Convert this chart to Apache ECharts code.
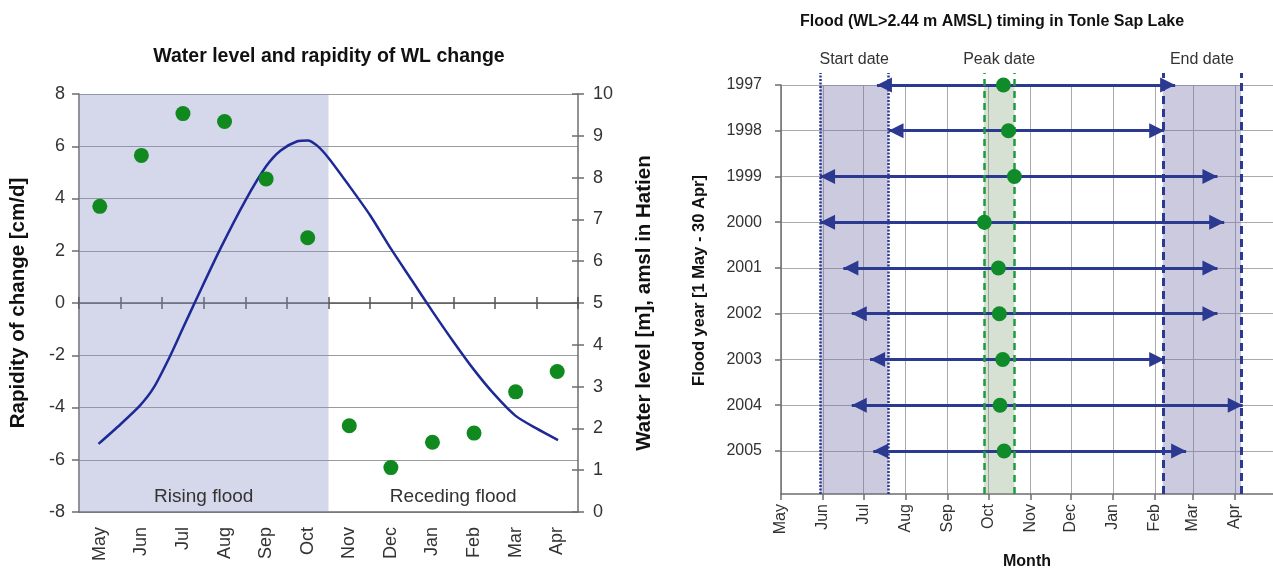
<!DOCTYPE html>
<html><head><meta charset="utf-8">
<script src="https://cdn.jsdelivr.net/npm/echarts@6/dist/echarts.min.js"></script>
<style>html,body{margin:0;padding:0;background:#fff}#c{width:1273px;height:569px}</style>
</head><body><div id="c"></div>
<script>
// ---------- Left chart data ----------
const months = ['May','Jun','Jul','Aug','Sep','Oct','Nov','Dec','Jan','Feb','Mar','Apr'];
const rapidity = [3.7, 5.65, 7.25, 6.95, 4.75, 2.5, -4.7, -6.3, -5.33, -4.98, -3.4, -2.62];
// water level curve: position in month units (category i spans i..i+1), level in m
const wlMonthPos = [0.47, 1.0, 1.47, 1.8, 2.2, 2.5, 2.85, 3.4, 4.0, 4.5, 4.85, 5.25, 5.5, 5.72, 6.0, 6.5, 7.0, 7.5, 8.0, 8.5, 9.0, 9.5, 10.0, 10.5, 11.0, 11.52];
const wlLevel    = [1.63, 2.1, 2.55, 2.98, 3.75, 4.4, 5.15, 6.3, 7.45, 8.27, 8.65, 8.87, 8.89, 8.77, 8.47, 7.8, 7.1, 6.3, 5.55, 4.8, 4.08, 3.4, 2.8, 2.3, 2.0, 1.72];
const risingSpan = [0, 6];
const recedingSpan = [6, 12];

// ---------- Right chart data (days since 1 May) ----------
const years = [1997, 1998, 1999, 2000, 2001, 2002, 2003, 2004, 2005];
const startDay = [70.8, 79.3, 28.8, 28.8, 46, 52.2, 65.7, 52.2, 68.1];
const peakDay  = [164.1, 167.8, 172.2, 150, 160.4, 161.1, 163.6, 161.6, 164.6];
const endDay   = [290.8, 282.7, 322, 327, 322, 322, 282.7, 340.7, 298.9];
const monthStartDay = [0, 31, 61, 92, 123, 153, 184, 214, 245, 276, 304, 335];
const startWindow = [28.8, 79.2];
const peakWindow = [149.8, 172.2];
const endWindow = [281.7, 339.5];

const FONT = '"Liberation Sans", Arial, sans-serif';
const chart = echarts.init(document.getElementById('c'), null, {renderer: 'canvas'});
const txt = (size, extra) => Object.assign({fontFamily: FONT, fontSize: size, color: '#333'}, extra || {});
const axisCol = '#6e6e6e';
const ARROW = 15;

const option = {
  backgroundColor: '#fff',
  animation: false,
  title: [
    {text: 'Water level and rapidity of WL change', left: 324, top: 42, textAlign: 'center',
     textStyle: txt(19.5, {fontWeight: 'bold', color: '#111'})},
    {text: 'Flood (WL>2.44 m AMSL) timing in Tonle Sap Lake', left: 987, top: 9, textAlign: 'center',
     textStyle: txt(16, {fontWeight: 'bold', color: '#111'})}
  ],
  grid: [
    {left: 79, right: 695, top: 94, bottom: 57, outerBoundsMode: 'none'},
    {left: 781, right: 0, top: 85, bottom: 75, outerBoundsMode: 'none'},
    {left: 781, right: 0, top: 73, bottom: 75, outerBoundsMode: 'none'}
  ],
  xAxis: [
    {gridIndex: 0, type: 'category', data: months, position: 'bottom', boundaryGap: true,
     axisLine: {onZero: false, lineStyle: {color: axisCol, width: 1.5}},
     axisTick: {show: false},
     axisLabel: txt(18, {rotate: 90, margin: 15}),
     splitLine: {show: false}},
    {gridIndex: 0, type: 'category', data: months, position: 'bottom', boundaryGap: true,
     axisLine: {onZero: true, onZeroAxisIndex: 0, lineStyle: {color: '#555', width: 1.5}},
     axisTick: {show: true, length: 6, lineStyle: {color: '#555', width: 1.5}},
     axisLabel: {show: false}, splitLine: {show: false}},
    {gridIndex: 0, type: 'value', min: 0, max: 12, show: false},
    {gridIndex: 1, type: 'value', min: 0, max: 363, position: 'bottom',
     axisLine: {onZero: false, lineStyle: {color: axisCol, width: 1.5}},
     axisTick: {show: true, customValues: monthStartDay, length: 6, lineStyle: {color: axisCol, width: 1.5}},
     axisLabel: txt(16, {customValues: monthStartDay, rotate: 90, margin: 10,
       formatter: v => months[monthStartDay.indexOf(v)] || ''}),
     splitLine: {show: true, lineStyle: {color: '#aaaaaa', width: 1}},
     name: 'Month', nameLocation: 'middle', nameGap: 60,
     nameTextStyle: txt(16, {fontWeight: 'bold', color: '#111'})},
    {gridIndex: 2, type: 'value', min: 0, max: 363, show: false},
    {gridIndex: 0, type: 'category', data: months, position: 'bottom', boundaryGap: true,
     axisLine: {show: false, onZero: true, onZeroAxisIndex: 0},
     axisTick: {show: true, inside: true, length: 6, lineStyle: {color: '#555', width: 1.5}},
     axisLabel: {show: false}, splitLine: {show: false}}
  ],
  yAxis: [
    {gridIndex: 0, type: 'value', min: -8, max: 8, interval: 2, position: 'left',
     axisLine: {show: true, onZero: false, lineStyle: {color: axisCol, width: 1.5}},
     axisTick: {show: true, length: 7, lineStyle: {color: axisCol, width: 1.5}},
     axisLabel: txt(18, {margin: 14}),
     splitLine: {show: true, lineStyle: {color: '#9a9a9a', width: 1.2}},
     name: 'Rapidity of change [cm/d]', nameLocation: 'middle', nameGap: 50,
     nameTextStyle: txt(20.5, {fontWeight: 'bold', color: '#111'})},
    {gridIndex: 0, type: 'value', min: 0, max: 10, interval: 1, position: 'right',
     axisLine: {show: true, onZero: false, lineStyle: {color: axisCol, width: 1.5}},
     axisTick: {show: true, length: 6, lineStyle: {color: axisCol, width: 1.5}},
     axisLabel: txt(18, {margin: 15}),
     splitLine: {show: false},
     name: 'Water level [m], amsl in Hatien', nameLocation: 'middle', nameGap: 56,
     nameTextStyle: txt(20.5, {fontWeight: 'bold', color: '#111'})},
    {gridIndex: 1, type: 'value', inverse: true, min: 1997, max: 2005.94, position: 'left',
     axisLine: {show: true, onZero: false, lineStyle: {color: axisCol, width: 1.5}},
     axisTick: {show: true, customValues: years, length: 6, lineStyle: {color: axisCol, width: 1.5}},
     axisLabel: txt(16, {customValues: years, margin: 19, formatter: v => String(v)}),
     splitLine: {show: true, lineStyle: {color: '#aaaaaa', width: 1}},
     name: 'Flood year [1 May - 30 Apr]', nameLocation: 'middle', nameGap: 73,
     nameTextStyle: txt(16.5, {fontWeight: 'bold', color: '#111', padding: [0, 0, 0, 18]})},
    {gridIndex: 2, type: 'value', min: 0, max: 1, show: false},
    {gridIndex: 0, type: 'value', min: 0, max: 10, interval: 1, position: 'right',
     axisLine: {show: false, onZero: false},
     axisTick: {show: true, inside: true, length: 6, lineStyle: {color: axisCol, width: 1.5}},
     axisLabel: {show: false}, splitLine: {show: false}}
  ],
  series: [
    {type: 'line', name: 'Water level', xAxisIndex: 2, yAxisIndex: 1,
     data: wlMonthPos.map((m, i) => [m, wlLevel[i]]),
     smooth: 0.25, showSymbol: false, z: 3,
     lineStyle: {color: '#1d2a96', width: 2.5},
     markArea: {silent: true,
       label: txt(19, {show: true, position: 'insideBottom', distance: 6}),
       data: [
         [{name: 'Rising flood', xAxis: risingSpan[0], itemStyle: {color: 'rgba(135,140,195,0.35)'}}, {xAxis: risingSpan[1]}],
         [{name: 'Receding flood', xAxis: recedingSpan[0], itemStyle: {color: 'rgba(255,255,255,0)'}}, {xAxis: recedingSpan[1]}]
       ]}},
    {type: 'scatter', name: 'Rapidity', xAxisIndex: 0, yAxisIndex: 0, data: rapidity,
     symbolSize: 15, z: 5, itemStyle: {color: '#10891f', opacity: 1}},
    {type: 'scatter', name: 'Duration', xAxisIndex: 3, yAxisIndex: 2, data: [], silent: true, z: 4,
     markLine: {silent: true, animation: false,
       symbol: ['triangle', 'triangle'], symbolSize: ARROW,
       symbolOffset: [[0, ARROW / 2], [0, ARROW / 2]],
       label: {show: false},
       lineStyle: {color: '#2b3990', width: 3, type: 'solid', opacity: 1},
       emphasis: {disabled: true},
       data: years.map((y, i) => [{coord: [startDay[i], y]}, {coord: [endDay[i], y]}])}},
    {type: 'scatter', name: 'Peak', xAxisIndex: 3, yAxisIndex: 2,
     data: years.map((y, i) => [peakDay[i], y]),
     symbolSize: 15, z: 6, itemStyle: {color: '#0f8b2a', opacity: 1},
     markArea: {silent: true,
       label: txt(16, {show: true, position: 'top', distance: 17}),
       data: [
         [{name: 'Start date', xAxis: startWindow[0], itemStyle: {color: 'rgba(110,108,165,0.36)'}}, {xAxis: startWindow[1]}],
         [{name: 'Peak date', xAxis: peakWindow[0], itemStyle: {color: 'rgba(130,165,120,0.33)'}}, {xAxis: peakWindow[1]}],
         [{name: 'End date', xAxis: endWindow[0], itemStyle: {color: 'rgba(110,108,165,0.36)'}}, {xAxis: endWindow[1]}]
       ]}},
    {type: 'scatter', xAxisIndex: 4, yAxisIndex: 3, data: [], silent: true,
     markLine: {silent: true, symbol: 'none', label: {show: false},
       data: [
         {xAxis: startWindow[0], lineStyle: {type: [2, 1.5], color: '#2b3990', width: 2.5}},
         {xAxis: startWindow[1], lineStyle: {type: [2, 1.5], color: '#2b3990', width: 2.5}},
         {xAxis: peakWindow[0], lineStyle: {type: [7, 5], color: '#1f9a3e', width: 2.5}},
         {xAxis: peakWindow[1], lineStyle: {type: [7, 5], color: '#1f9a3e', width: 2.5}},
         {xAxis: endWindow[0], lineStyle: {type: [8, 5], color: '#2b3990', width: 3}},
         {xAxis: endWindow[1], lineStyle: {type: [8, 5], color: '#2b3990', width: 3}}
       ]}}
  ]
};
chart.setOption(option);
</script>
</body></html>
